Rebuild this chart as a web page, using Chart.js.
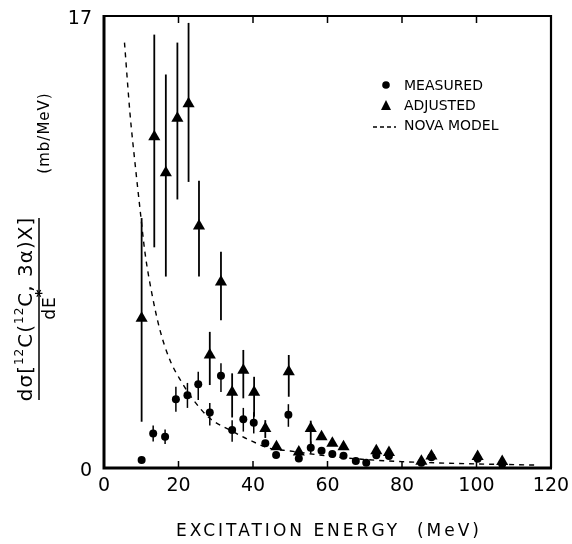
<!DOCTYPE html>
<html>
<head>
<meta charset="utf-8">
<script src="https://cdn.jsdelivr.net/npm/chart.js@4"></script>
<style>
  body { margin: 0; background: #fff; }
  canvas { display: block; }
</style>
</head>
<body>
<canvas id="grafico" width="572" height="544"></canvas>
<script>
// valores
const medidoE  = [10.1, 13.2, 16.4, 19.3, 22.4, 25.3, 28.4, 31.4, 34.4, 37.4, 40.2, 43.3, 46.2, 49.5, 52.3, 55.5, 58.4, 61.3, 64.3, 67.6, 70.4, 73.1, 76.5, 85.2, 87.9, 100.3, 106.9]
const medidoY  = [0.3, 1.3, 1.18, 2.59, 2.74, 3.15, 2.09, 3.47, 1.43, 1.83, 1.7, 0.93, 0.49, 2.0, 0.36, 0.76, 0.65, 0.53, 0.46, 0.26, 0.2, 0.48, 0.45, 0.2, 0.4, 0.35, 0.15]
const medidoLo = [null, 1.0, 0.9, 2.12, 2.26, 2.56, 1.6, 2.86, 0.99, 1.37, 1.3, null, null, 1.55, null, 0.55, null, null, null, null, null, null, null, null, null, null, null]
const medidoHi = [null, 1.6, 1.45, 3.06, 3.2, 3.62, 2.44, 3.94, 1.8, 2.26, 2.1, null, null, 2.4, null, 1.0, null, null, null, null, null, null, null, null, null, null, null]

const ajustadoE  = [10.1, 13.5, 16.6, 19.7, 22.7, 25.5, 28.4, 31.4, 34.4, 37.4, 40.3, 43.3, 46.3, 49.6, 52.3, 55.5, 58.4, 61.3, 64.3, 73.1, 76.5, 85.2, 87.9, 100.3, 106.9]
const ajustadoY  = [5.63, 12.46, 11.1, 13.15, 13.7, 9.1, 4.25, 7.0, 2.85, 3.68, 2.85, 1.49, 0.8, 3.62, 0.6, 1.49, 1.18, 0.93, 0.8, 0.65, 0.58, 0.25, 0.45, 0.43, 0.24]
const ajustadoLo = [1.74, 8.3, 7.2, 10.1, 10.76, 7.2, 3.12, 5.56, 1.9, 2.62, 1.93, 1.13, null, 2.68, null, 0.8, null, null, null, null, null, null, null, null, null]
const ajustadoHi = [9.4, 16.3, 14.8, 16.0, 16.74, 10.8, 5.12, 8.13, 3.56, 4.44, 3.43, 1.8, null, 4.25, null, 1.78, null, null, null, null, null, null, null, null, null]

const novaE = [5.5, 7, 8.3, 9.7, 11, 12.8, 15, 17.7, 20.8, 24, 28.4, 33.8, 39.1, 44.5, 50, 60, 70, 80, 95, 116]
const novaY = [16, 13.3, 11.5, 9.7, 8.1, 6.6, 5.2, 4.06, 3.24, 2.56, 1.87, 1.43, 1.05, 0.74, 0.64, 0.45, 0.32, 0.24, 0.17, 0.11]

const ticksX = [0, 20, 40, 60, 80, 100, 120]
const ticksY = [0, 17]

function juntar(xs, ys) {
  return xs.map((v, i) => ({ x: v, y: ys[i] }))
}

const barrasErro = {
  id: 'barrasErro',
  beforeDatasetsDraw(chart) {
    const ctx = chart.ctx
    const sx = chart.scales.x, sy = chart.scales.y
    ctx.save()
    ctx.strokeStyle = '#000'
    chart.data.datasets.forEach((ds) => {
      if (!ds.lo) return
      ctx.lineWidth = ds.larguraBarra
      ds.data.forEach((p, i) => {
        if (ds.lo[i] == null) return
        const px = sx.getPixelForValue(p.x)
        ctx.beginPath()
        ctx.moveTo(px, sy.getPixelForValue(ds.lo[i]))
        ctx.lineTo(px, sy.getPixelForValue(ds.hi[i]))
        ctx.stroke()
      })
    })
    ctx.restore()
  }
}

const moldura = {
  id: 'moldura',
  afterDatasetsDraw(chart) {
    const ctx = chart.ctx
    const a = chart.chartArea
    const sx = chart.scales.x
    ctx.save()
    ctx.strokeStyle = '#000'
    ctx.lineWidth = 2.2
    ctx.beginPath()
    ctx.moveTo(a.left, a.top)
    ctx.lineTo(a.right, a.top)
    ctx.lineTo(a.right, a.bottom)
    ctx.stroke()
    ctx.lineWidth = 3
    ctx.beginPath()
    ctx.moveTo(a.left, a.top - 1)
    ctx.lineTo(a.left, a.bottom)
    ctx.lineTo(a.right + 1, a.bottom)
    ctx.stroke()
    // marcas para dentro
    ctx.lineWidth = 1.5
    ticksX.slice(1, -1).forEach((v) => {
      const px = sx.getPixelForValue(v)
      ctx.beginPath()
      ctx.moveTo(px, a.bottom)
      ctx.lineTo(px, a.bottom - 7)
      ctx.moveTo(px, a.top)
      ctx.lineTo(px, a.top + 7)
      ctx.stroke()
    })
    ctx.restore()
  }
}

const textos = {
  id: 'textos',
  afterDraw(chart) {
    const ctx = chart.ctx
    ctx.save()
    ctx.fillStyle = '#000'
    ctx.strokeStyle = '#000'

    // legenda
    const ds = chart.data.datasets
    ctx.font = '14px "DejaVu Sans"'
    ctx.textBaseline = 'middle'
    ctx.textAlign = 'left'
    ctx.beginPath()
    ctx.arc(386, 85, 3.8, 0, Math.PI * 2)
    ctx.fill()
    ctx.fillText(ds[0].label, 404, 86)
    ctx.beginPath()
    ctx.moveTo(386, 100)
    ctx.lineTo(391, 110)
    ctx.lineTo(381, 110)
    ctx.closePath()
    ctx.fill()
    ctx.fillText(ds[1].label, 404, 106)
    ctx.lineWidth = 1.5
    ctx.setLineDash([4, 3])
    ctx.beginPath()
    ctx.moveTo(373, 127)
    ctx.lineTo(396, 127)
    ctx.stroke()
    ctx.setLineDash([])
    ctx.fillText(ds[2].label, 404, 126)

    // titulo do eixo x
    ctx.font = '17px "DejaVu Sans"'
    ctx.letterSpacing = '3px'
    ctx.textAlign = 'center'
    ctx.fillText('EXCITATION ENERGY  (MeV)', 329, 532)
    ctx.letterSpacing = '1px'

    // titulo do eixo y (girado)
    ctx.rotate(-Math.PI / 2)
    ctx.textBaseline = 'alphabetic'
    ctx.textAlign = 'left'
    const partes = [
      ['dσ[', false], ['12', true], ['C(', false], ['12', true], ['C, 3α)X]', false]
    ]
    const fonteN = '20px "DejaVu Sans"', fonteS = '12px "DejaVu Sans"'
    let total = 0
    partes.forEach(([t, sup]) => {
      ctx.font = sup ? fonteS : fonteN
      total += ctx.measureText(t).width
    })
    let lx = -309 - total / 2
    partes.forEach(([t, sup]) => {
      ctx.font = sup ? fonteS : fonteN
      ctx.fillText(t, lx, sup ? 23 : 32)
      lx += ctx.measureText(t).width
    })
    ctx.lineWidth = 1.5
    ctx.beginPath()
    ctx.moveTo(-400, 39)
    ctx.lineTo(-218, 39)
    ctx.stroke()
    ctx.font = '17px "DejaVu Sans"'
    const wd = ctx.measureText('dE').width
    ctx.fillText('dE', -308 - wd / 2, 55)
    ctx.font = 'bold 15px "DejaVu Sans"'
    ctx.fillText('*', -308 + wd / 2 - 1, 47)
    ctx.font = '15px "DejaVu Sans"'
    ctx.textAlign = 'center'
    ctx.fillText('(mb/MeV)', -133, 49)
    ctx.restore()
  }
}

const grafico = document.querySelector('#grafico')

new Chart(grafico, {
  type: 'scatter',
  data: {
    datasets: [{
      label: 'MEASURED',
      data: juntar(medidoE, medidoY),
      lo: medidoLo,
      hi: medidoHi,
      larguraBarra: 1.5,
      pointStyle: 'circle',
      pointRadius: 4,
      backgroundColor: '#000',
      borderColor: '#000',
      borderWidth: 0
    }, {
      label: 'ADJUSTED',
      data: juntar(ajustadoE, ajustadoY),
      lo: ajustadoLo,
      hi: ajustadoHi,
      larguraBarra: 1.8,
      pointStyle: 'triangle',
      pointRadius: 7,
      backgroundColor: '#000',
      borderColor: '#000',
      borderWidth: 0
    }, {
      label: 'NOVA MODEL',
      data: juntar(novaE, novaY),
      showLine: true,
      borderColor: '#000',
      borderWidth: 1.4,
      borderDash: [5, 5],
      pointRadius: 0,
      cubicInterpolationMode: 'monotone'
    }]
  },
  options: {
    responsive: false,
    animation: false,
    layout: { padding: { top: 16, right: 21, left: 0, bottom: 0 } },
    plugins: { legend: { display: false }, tooltip: { enabled: false } },
    scales: {
      x: {
        type: 'linear',
        min: 0,
        max: 120,
        grid: { display: false, drawTicks: false },
        border: { display: false },
        afterBuildTicks: (s) => { s.ticks = ticksX.map((v) => ({ value: v })) },
        afterFit: (s) => {
          s.height = 76
          s.paddingLeft = 0
          s.paddingRight = 0
        },
        ticks: { color: '#000', font: { family: 'DejaVu Sans', size: 19 }, padding: 7, maxRotation: 0 }
      },
      y: {
        type: 'linear',
        min: 0,
        max: 17,
        grid: { display: false, drawTicks: false },
        border: { display: false },
        afterBuildTicks: (s) => { s.ticks = ticksY.map((v) => ({ value: v })) },
        afterFit: (s) => {
          s.width = 104
          s.paddingTop = 0
          s.paddingBottom = 0
        },
        ticks: { color: '#000', font: { family: 'DejaVu Sans', size: 19 }, padding: 12, labelOffset: 3 }
      }
    }
  },
  plugins: [barrasErro, moldura, textos]
})
</script>
</body>
</html>
